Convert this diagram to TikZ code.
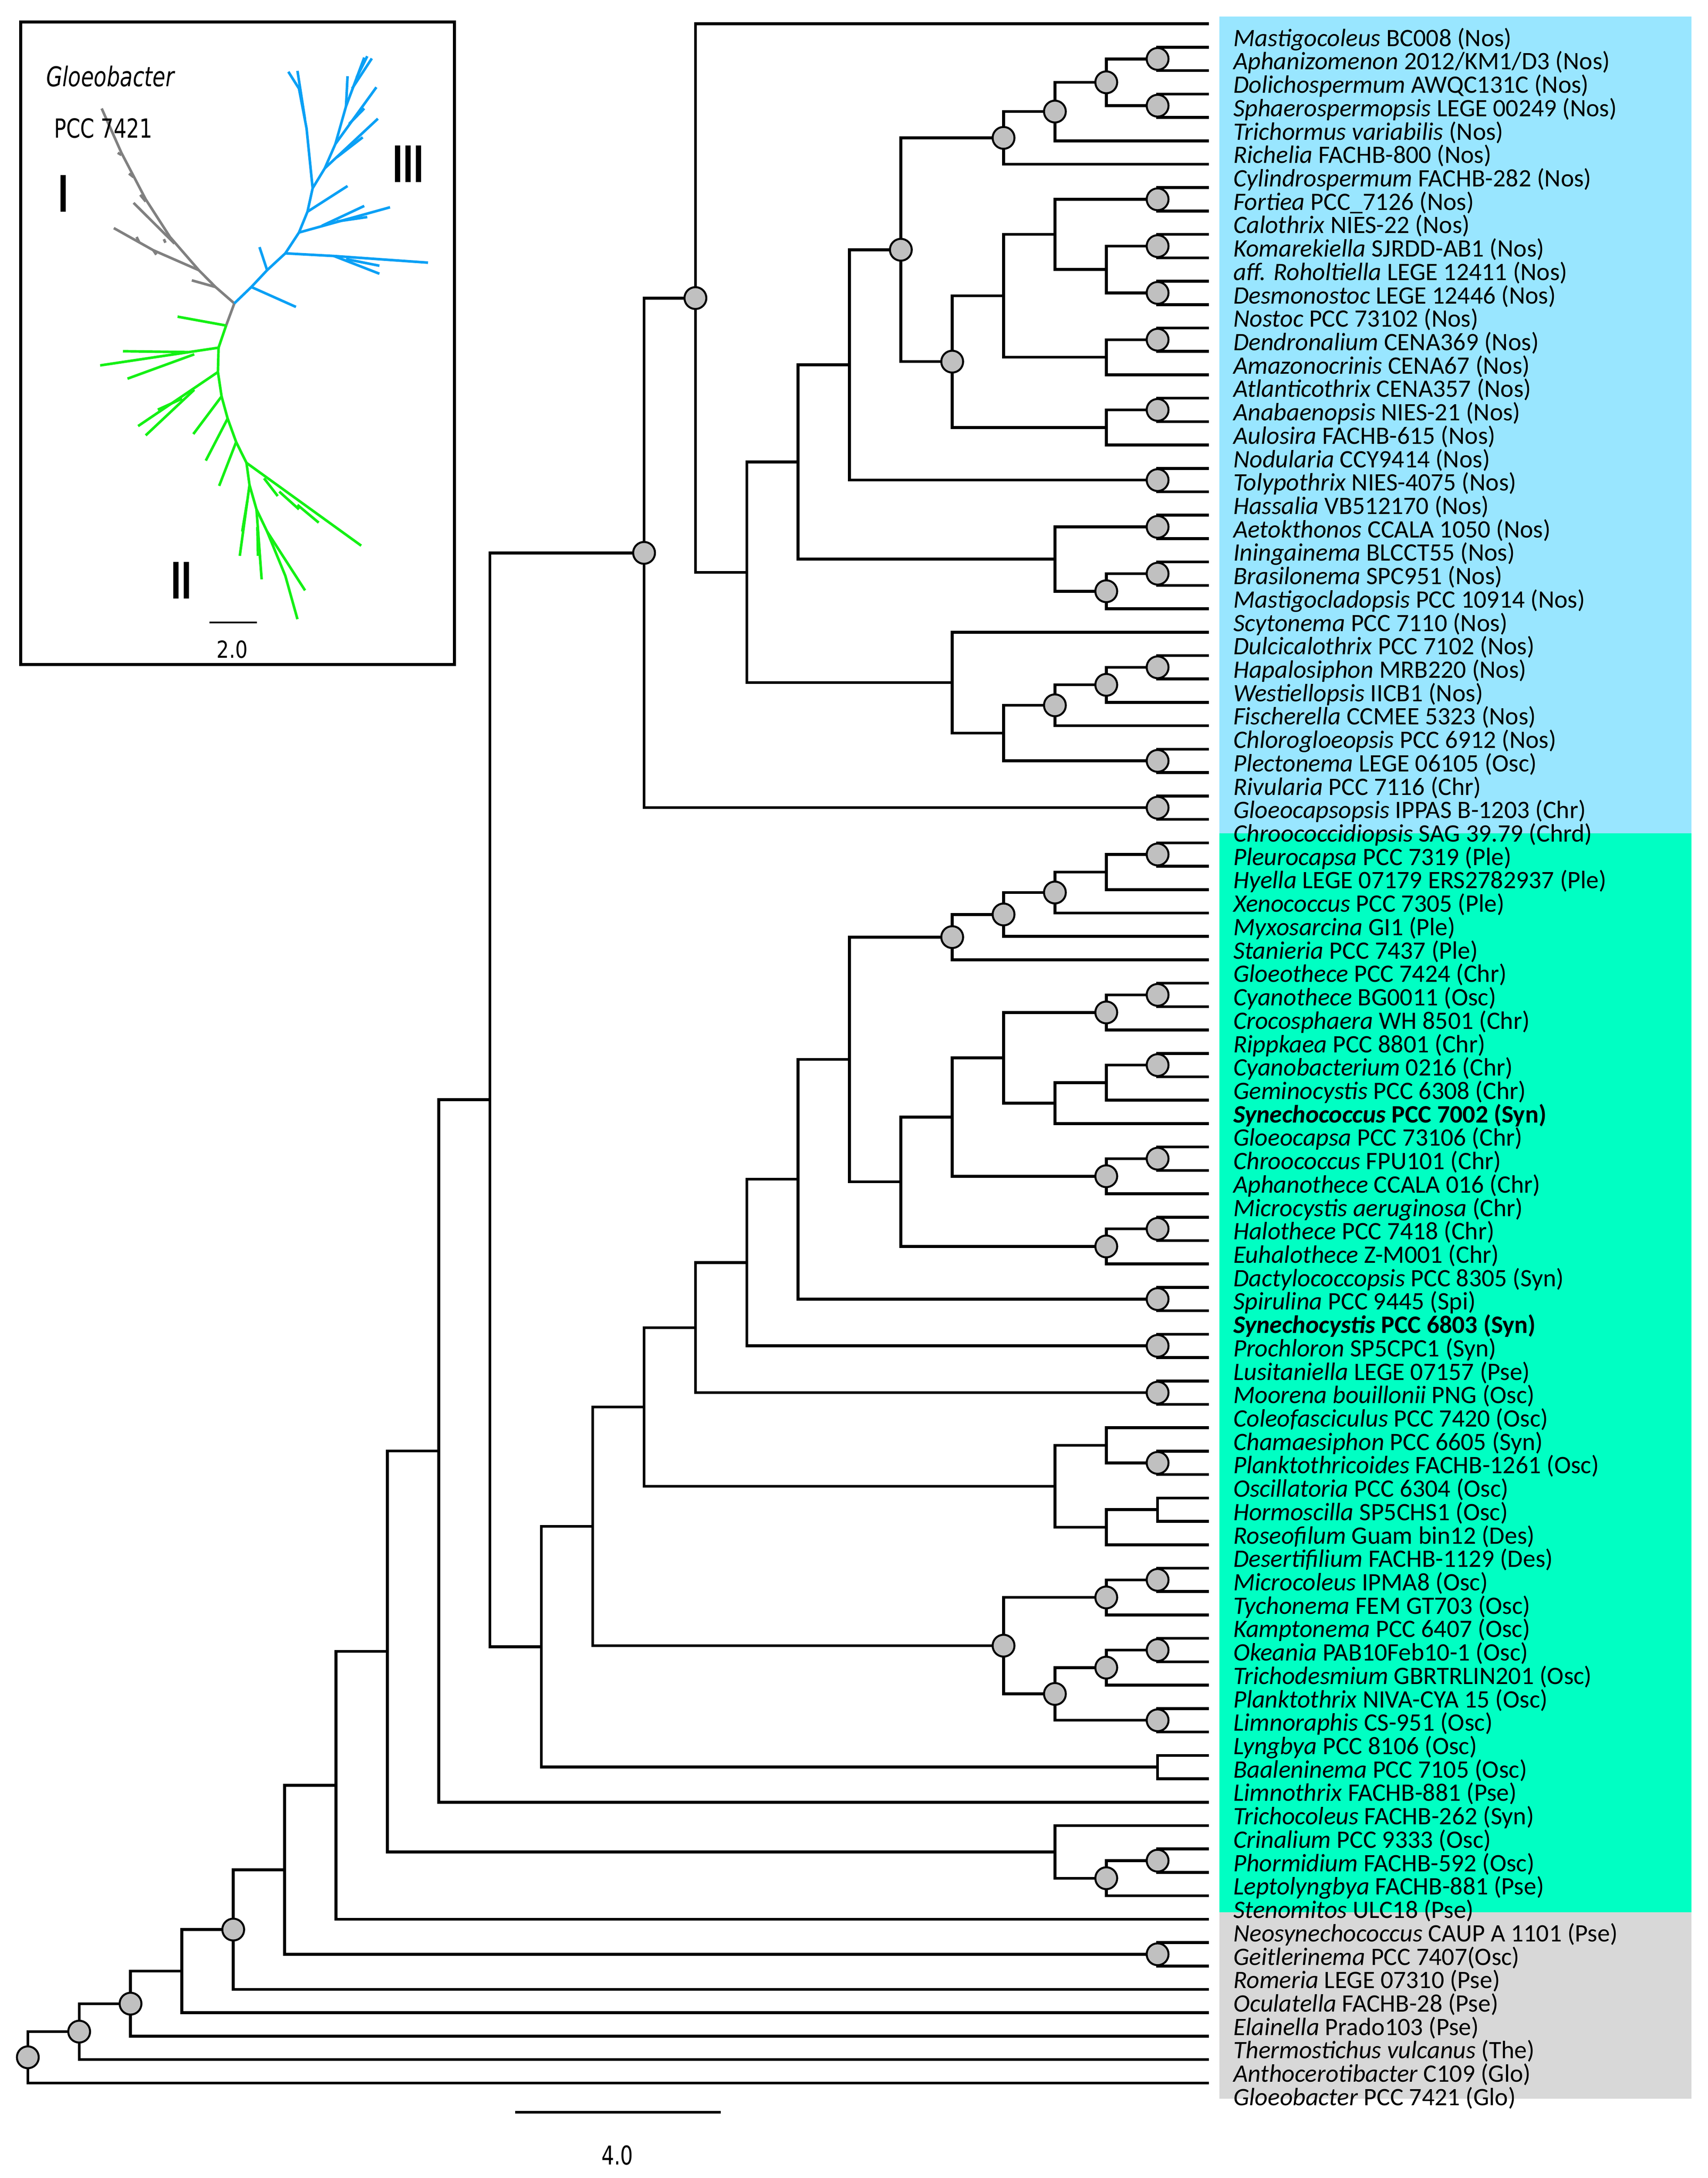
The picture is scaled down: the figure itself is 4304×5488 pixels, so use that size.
\documentclass[tikz,border=0pt]{standalone}
\usepackage{fontspec}
\usepackage{graphicx}
\setmainfont{Carlito}
\newfontfamily\dejavu{DejaVu Sans}
\usetikzlibrary{calc}
\definecolor{cyanbg}{RGB}{153,230,255}
\definecolor{greenbg}{RGB}{0,255,195}
\definecolor{graybg}{RGB}{216,216,216}
\definecolor{dotgray}{RGB}{192,192,192}
\definecolor{igray}{RGB}{128,128,128}
\definecolor{iblue}{RGB}{10,160,245}
\definecolor{igreen}{RGB}{20,240,20}
\newcommand\tn[4]{%
  \coordinate (tmp) at ($(#3)!0.5!(#4)$);
  \coordinate (#1) at (tmp -| L#2);
  \draw[br] (#1) |- (#3) (#1) |- (#4);
}
\newcommand\leaflab[2]{\node[lab] (lab#1) at ($(t#1)+(61,56.5)$) {#2};}
\begin{document}
\begin{tikzpicture}[x=0.01cm,y=-0.01cm,
  br/.style={line width=0.072cm},
  dot/.style={circle,draw,fill=dotgray,line width=0.05cm,minimum size=0.55cm,inner sep=0pt},
  lab/.style={anchor=base west,inner sep=0pt,font=\fontsize{18}{20}\selectfont},
  ib/.style={line width=0.065cm},
  roman/.style={font=\dejavu\bfseries\fontsize{20}{20}\selectfont,inner sep=0pt}]
\useasboundingbox (0,0) rectangle (4304,5488);
% backgrounds
\fill[cyanbg] (3073,42) rectangle (4263,2100);
\fill[greenbg] (3073,2100) rectangle (4263,4818);
\fill[graybg] (3073,4818) rectangle (4263,5288);
% inset
\begin{scope}[xscale=0.765,yscale=1.116]
\draw[line width=0.08cm] (68,50) rectangle (1497,1500);
\begin{scope}[ib,igray]
\draw (772,685) -- (710,648) -- (655,610) -- (560,535) -- (480,450) -- (400,345) -- (335,245);
\draw (710,648) -- (632,633);
\draw (655,610) -- (505,565) -- (375,515);
\draw (505,565) -- (515,575);
\draw (450,535) -- (458,546);
\draw (575,550) -- (440,458);
\draw (540,540) -- (545,548);
\draw (480,455) -- (462,440);
\draw (440,400) -- (425,392);
\draw (400,350) -- (388,345);
\draw (772,685) -- (745,735);
\end{scope}
\begin{scope}[ib,iblue]
\draw (772,685) -- (828,648) -- (880,610) -- (940,572) -- (985,525) -- (1013,478) -- (1030,425) -- (1070,380) -- (1105,325) -- (1140,240) -- (1200,130);
\draw (828,648) -- (975,693);
\draw (880,610) -- (855,558);
\draw (940,572) -- (1100,578) -- (1410,593);
\draw (1100,578) -- (1250,618);
\draw (1140,585) -- (1250,600);
\draw (985,525) -- (1285,468);
\draw (1060,510) -- (1200,465);
\draw (1110,500) -- (1210,490);
\draw (1013,478) -- (1145,420);
\draw (1030,425) -- (1010,290) -- (985,200) -- (950,162);
\draw (1005,270) -- (980,160);
\draw (1070,380) -- (1245,268);
\draw (1110,355) -- (1195,310);
\draw (1105,325) -- (1240,197);
\draw (1150,280) -- (1200,245);
\draw (1140,240) -- (1145,172);
\draw (1160,200) -- (1225,132);
\draw (1175,175) -- (1210,127);
\end{scope}
\begin{scope}[ib,igreen]
\draw (745,735) -- (720,785) -- (718,840) -- (730,895) -- (750,945) -- (778,998) -- (812,1045) -- (822,1095) -- (845,1150) -- (880,1200) -- (940,1300) -- (980,1398);
\draw (745,735) -- (585,715);
\draw (720,785) -- (330,825);
\draw (620,795) -- (405,793);
\draw (640,800) -- (420,855);
\draw (718,840) -- (455,962);
\draw (640,880) -- (480,983);
\draw (600,900) -- (520,925);
\draw (730,895) -- (637,980);
\draw (750,945) -- (678,1040);
\draw (778,998) -- (722,1097);
\draw (812,1045) -- (1190,1232);
\draw (870,1080) -- (915,1120);
\draw (920,1110) -- (985,1150);
\draw (980,1140) -- (1050,1180);
\draw (822,1095) -- (790,1255);
\draw (815,1130) -- (798,1200);
\draw (845,1150) -- (862,1308);
\draw (848,1190) -- (850,1255);
\draw (880,1200) -- (1005,1333);
\end{scope}
\node[inner sep=0pt] (iglo) at (363,172) {\scalebox{1}[1.3]{\dejavu\itshape\fontsize{15}{15}\selectfont Gloeobacter}};
\node[inner sep=0pt] (ipcc) at (340,290) {\scalebox{1}[1.3]{\dejavu\fontsize{14.5}{15}\selectfont PCC 7421}};
\node[roman] (rI) at (209,437) {\scalebox{1}[1.8]{I}};
\node[roman] (rIII) at (1345,370) {\scalebox{1}[1.8]{III}};
\node[roman] (rII) at (598,1310) {\scalebox{1}[1.8]{II}};
\coordinate (isb1) at (690,1405);
\coordinate (isb2) at (847,1405);
\draw[line width=0.045cm] (isb1) -- (isb2);
\node[inner sep=0pt] (isbl) at (765,1466) {\scalebox{1}[1.2]{\dejavu\fontsize{14}{14}\selectfont 2.0}};
\end{scope}
% tree coordinates
\foreach \k in {0,...,23} {\coordinate (L\k) at ({3047-\k*129.43},0);}
\foreach \i in {1,...,89} {\coordinate (t\i) at (3047,{60+(\i-1)*58.96});}
% clade Nos
\tn{n2x3}{1}{t2}{t3}
\tn{n4x5}{1}{t4}{t5}
\tn{n2x5}{2}{n2x3}{n4x5}
\tn{n2x6}{3}{n2x5}{t6}
\tn{n2x7}{4}{n2x6}{t7}
\tn{n8x9}{1}{t8}{t9}
\tn{n10x11}{1}{t10}{t11}
\tn{n12x13}{1}{t12}{t13}
\tn{n10x13}{2}{n10x11}{n12x13}
\tn{n8x13}{3}{n8x9}{n10x13}
\tn{n14x15}{1}{t14}{t15}
\tn{n14x16}{2}{n14x15}{t16}
\tn{n8x16}{4}{n8x13}{n14x16}
\tn{n17x18}{1}{t17}{t18}
\tn{n17x19}{2}{n17x18}{t19}
\tn{n8x19}{5}{n8x16}{n17x19}
\tn{n2x19}{6}{n2x7}{n8x19}
\tn{n20x21}{1}{t20}{t21}
\tn{n2x21}{7}{n2x19}{n20x21}
\tn{n22x23}{1}{t22}{t23}
\tn{n24x25}{1}{t24}{t25}
\tn{n24x26}{2}{n24x25}{t26}
\tn{n22x26}{3}{n22x23}{n24x26}
\tn{n2x26}{8}{n2x21}{n22x26}
\tn{n28x29}{1}{t28}{t29}
\tn{n28x30}{2}{n28x29}{t30}
\tn{n28x31}{3}{n28x30}{t31}
\tn{n32x33}{1}{t32}{t33}
\tn{n28x33}{4}{n28x31}{n32x33}
\tn{n27x33}{5}{t27}{n28x33}
\tn{n2x33}{9}{n2x26}{n27x33}
\tn{n1x33}{10}{t1}{n2x33}
\tn{n34x35}{1}{t34}{t35}
\tn{n1x35}{11}{n1x33}{n34x35}
% green clade
\tn{n36x37}{1}{t36}{t37}
\tn{n36x38}{2}{n36x37}{t38}
\tn{n36x39}{3}{n36x38}{t39}
\tn{n36x40}{4}{n36x39}{t40}
\tn{n36x41}{5}{n36x40}{t41}
\tn{n42x43}{1}{t42}{t43}
\tn{n42x44}{2}{n42x43}{t44}
\tn{n45x46}{1}{t45}{t46}
\tn{n45x47}{2}{n45x46}{t47}
\tn{n45x48}{3}{n45x47}{t48}
\tn{n42x48}{4}{n42x44}{n45x48}
\tn{n49x50}{1}{t49}{t50}
\tn{n49x51}{2}{n49x50}{t51}
\tn{n42x51}{5}{n42x48}{n49x51}
\tn{n52x53}{1}{t52}{t53}
\tn{n52x54}{2}{n52x53}{t54}
\tn{n42x54}{6}{n42x51}{n52x54}
\tn{n36x54}{7}{n36x41}{n42x54}
\tn{n55x56}{1}{t55}{t56}
\tn{n36x56}{8}{n36x54}{n55x56}
\tn{n57x58}{1}{t57}{t58}
\tn{n36x58}{9}{n36x56}{n57x58}
\tn{n59x60}{1}{t59}{t60}
\tn{n36x60}{10}{n36x58}{n59x60}
\tn{n62x63}{1}{t62}{t63}
\tn{n61x63}{2}{t61}{n62x63}
\tn{n64x65}{1}{t64}{t65}
\tn{n64x66}{2}{n64x65}{t66}
\tn{n61x66}{3}{n61x63}{n64x66}
\tn{n36x66}{11}{n36x60}{n61x66}
\tn{n67x68}{1}{t67}{t68}
\tn{n67x69}{2}{n67x68}{t69}
\tn{n70x71}{1}{t70}{t71}
\tn{n70x72}{2}{n70x71}{t72}
\tn{n73x74}{1}{t73}{t74}
\tn{n70x74}{3}{n70x72}{n73x74}
\tn{n67x74}{4}{n67x69}{n70x74}
\tn{n36x74}{12}{n36x66}{n67x74}
\tn{n75x76}{1}{t75}{t76}
\tn{n36x76}{13}{n36x74}{n75x76}
\tn{n1x76}{14}{n1x35}{n36x76}
\tn{n1x77}{15}{n1x76}{t77}
\tn{n79x80}{1}{t79}{t80}
\tn{n79x81}{2}{n79x80}{t81}
\tn{n78x81}{3}{t78}{n79x81}
\tn{n1x81}{16}{n1x77}{n78x81}
\tn{n1x82}{17}{n1x81}{t82}
\tn{n83x84}{1}{t83}{t84}
\tn{n1x84}{18}{n1x82}{n83x84}
\tn{n1x85}{19}{n1x84}{t85}
\tn{n1x86}{20}{n1x85}{t86}
\tn{n1x87}{21}{n1x86}{t87}
\tn{n1x88}{22}{n1x87}{t88}
\tn{n1x89}{23}{n1x88}{t89}
% support circles
\foreach \c in {n2x3,n4x5,n2x5,n2x6,n2x7,n8x9,n10x11,n12x13,n14x15,n17x18,n8x19,n2x19,n20x21,n22x23,n24x25,n24x26,n28x29,n28x30,n28x31,n32x33,n1x33,n34x35,n1x35,
  n36x37,n36x39,n36x40,n36x41,n42x43,n42x44,n45x46,n49x50,n49x51,n52x53,n52x54,n55x56,n57x58,n59x60,n62x63,n67x68,n67x69,n70x71,n70x72,n73x74,n70x74,n67x74,
  n79x80,n79x81,n83x84,n1x85,n1x87,n1x88,n1x89}
  {\node[dot] (d\c) at (\c) {};}
% scale bar
\coordinate (sb1) at (1298,5322);
\coordinate (sb2) at (1816,5322);
\draw[br] (sb1) -- (sb2);
\node[inner sep=0pt] (sblab) at (1556,5431) {\scalebox{1}[1.3]{\dejavu\fontsize{14.3}{15}\selectfont 4.0}};
% labels
\leaflab{1}{\textit{Mastigocoleus} BC008 (Nos)}
\leaflab{2}{\textit{Aphanizomenon} 2012/KM1/D3 (Nos)}
\leaflab{3}{\textit{Dolichospermum} AWQC131C (Nos)}
\leaflab{4}{\textit{Sphaerospermopsis} LEGE 00249 (Nos)}
\leaflab{5}{\textit{Trichormus variabilis} (Nos)}
\leaflab{6}{\textit{Richelia} FACHB-800 (Nos)}
\leaflab{7}{\textit{Cylindrospermum} FACHB-282 (Nos)}
\leaflab{8}{\textit{Fortiea} PCC\_7126 (Nos)}
\leaflab{9}{\textit{Calothrix} NIES-22 (Nos)}
\leaflab{10}{\textit{Komarekiella} SJRDD-AB1 (Nos)}
\leaflab{11}{\textit{aff. Roholtiella} LEGE 12411 (Nos)}
\leaflab{12}{\textit{Desmonostoc} LEGE 12446 (Nos)}
\leaflab{13}{\textit{Nostoc} PCC 73102 (Nos)}
\leaflab{14}{\textit{Dendronalium} CENA369 (Nos)}
\leaflab{15}{\textit{Amazonocrinis} CENA67 (Nos)}
\leaflab{16}{\textit{Atlanticothrix} CENA357 (Nos)}
\leaflab{17}{\textit{Anabaenopsis} NIES-21 (Nos)}
\leaflab{18}{\textit{Aulosira} FACHB-615 (Nos)}
\leaflab{19}{\textit{Nodularia} CCY9414 (Nos)}
\leaflab{20}{\textit{Tolypothrix} NIES-4075 (Nos)}
\leaflab{21}{\textit{Hassalia} VB512170 (Nos)}
\leaflab{22}{\textit{Aetokthonos} CCALA 1050 (Nos)}
\leaflab{23}{\textit{Iningainema} BLCCT55 (Nos)}
\leaflab{24}{\textit{Brasilonema} SPC951 (Nos)}
\leaflab{25}{\textit{Mastigocladopsis} PCC 10914 (Nos)}
\leaflab{26}{\textit{Scytonema} PCC 7110 (Nos)}
\leaflab{27}{\textit{Dulcicalothrix} PCC 7102 (Nos)}
\leaflab{28}{\textit{Hapalosiphon} MRB220 (Nos)}
\leaflab{29}{\textit{Westiellopsis} IICB1 (Nos)}
\leaflab{30}{\textit{Fischerella} CCMEE 5323 (Nos)}
\leaflab{31}{\textit{Chlorogloeopsis} PCC 6912 (Nos)}
\leaflab{32}{\textit{Plectonema} LEGE 06105 (Osc)}
\leaflab{33}{\textit{Rivularia} PCC 7116 (Chr)}
\leaflab{34}{\textit{Gloeocapsopsis} IPPAS B-1203 (Chr)}
\leaflab{35}{\textit{Chroococcidiopsis} SAG 39.79 (Chrd)}
\leaflab{36}{\textit{Pleurocapsa} PCC 7319 (Ple)}
\leaflab{37}{\textit{Hyella} LEGE 07179 ERS2782937 (Ple)}
\leaflab{38}{\textit{Xenococcus} PCC 7305 (Ple)}
\leaflab{39}{\textit{Myxosarcina} GI1 (Ple)}
\leaflab{40}{\textit{Stanieria} PCC 7437 (Ple)}
\leaflab{41}{\textit{Gloeothece} PCC 7424 (Chr)}
\leaflab{42}{\textit{Cyanothece} BG0011 (Osc)}
\leaflab{43}{\textit{Crocosphaera} WH 8501 (Chr)}
\leaflab{44}{\textit{Rippkaea} PCC 8801 (Chr)}
\leaflab{45}{\textit{Cyanobacterium} 0216 (Chr)}
\leaflab{46}{\textit{Geminocystis} PCC 6308 (Chr)}
\leaflab{47}{\textbf{\textit{Synechococcus} PCC 7002 (Syn)}}
\leaflab{48}{\textit{Gloeocapsa} PCC 73106 (Chr)}
\leaflab{49}{\textit{Chroococcus} FPU101 (Chr)}
\leaflab{50}{\textit{Aphanothece} CCALA 016 (Chr)}
\leaflab{51}{\textit{Microcystis aeruginosa} (Chr)}
\leaflab{52}{\textit{Halothece} PCC 7418 (Chr)}
\leaflab{53}{\textit{Euhalothece} Z-M001 (Chr)}
\leaflab{54}{\textit{Dactylococcopsis} PCC 8305 (Syn)}
\leaflab{55}{\textit{Spirulina} PCC 9445 (Spi)}
\leaflab{56}{\textbf{\textit{Synechocystis} PCC 6803 (Syn)}}
\leaflab{57}{\textit{Prochloron} SP5CPC1 (Syn)}
\leaflab{58}{\textit{Lusitaniella} LEGE 07157 (Pse)}
\leaflab{59}{\textit{Moorena bouillonii} PNG (Osc)}
\leaflab{60}{\textit{Coleofasciculus} PCC 7420 (Osc)}
\leaflab{61}{\textit{Chamaesiphon} PCC 6605 (Syn)}
\leaflab{62}{\textit{Planktothricoides} FACHB-1261 (Osc)}
\leaflab{63}{\textit{Oscillatoria} PCC 6304 (Osc)}
\leaflab{64}{\textit{Hormoscilla} SP5CHS1 (Osc)}
\leaflab{65}{\textit{Roseofilum} Guam bin12 (Des)}
\leaflab{66}{\textit{Desertifilium} FACHB-1129 (Des)}
\leaflab{67}{\textit{Microcoleus} IPMA8 (Osc)}
\leaflab{68}{\textit{Tychonema} FEM GT703 (Osc)}
\leaflab{69}{\textit{Kamptonema} PCC 6407 (Osc)}
\leaflab{70}{\textit{Okeania} PAB10Feb10-1 (Osc)}
\leaflab{71}{\textit{Trichodesmium} GBRTRLIN201 (Osc)}
\leaflab{72}{\textit{Planktothrix} NIVA-CYA 15 (Osc)}
\leaflab{73}{\textit{Limnoraphis} CS-951 (Osc)}
\leaflab{74}{\textit{Lyngbya} PCC 8106 (Osc)}
\leaflab{75}{\textit{Baaleninema} PCC 7105 (Osc)}
\leaflab{76}{\textit{Limnothrix} FACHB-881 (Pse)}
\leaflab{77}{\textit{Trichocoleus} FACHB-262 (Syn)}
\leaflab{78}{\textit{Crinalium} PCC 9333 (Osc)}
\leaflab{79}{\textit{Phormidium} FACHB-592 (Osc)}
\leaflab{80}{\textit{Leptolyngbya} FACHB-881 (Pse)}
\leaflab{81}{\textit{Stenomitos} ULC18 (Pse)}
\leaflab{82}{\textit{Neosynechococcus} CAUP A 1101 (Pse)}
\leaflab{83}{\textit{Geitlerinema} PCC 7407(Osc)}
\leaflab{84}{\textit{Romeria} LEGE 07310 (Pse)}
\leaflab{85}{\textit{Oculatella} FACHB-28 (Pse)}
\leaflab{86}{\textit{Elainella} Prado103 (Pse)}
\leaflab{87}{\textit{Thermostichus vulcanus} (The)}
\leaflab{88}{\textit{Anthocerotibacter} C109 (Glo)}
\leaflab{89}{\textit{Gloeobacter} PCC 7421 (Glo)}
\end{tikzpicture}
\end{document}
